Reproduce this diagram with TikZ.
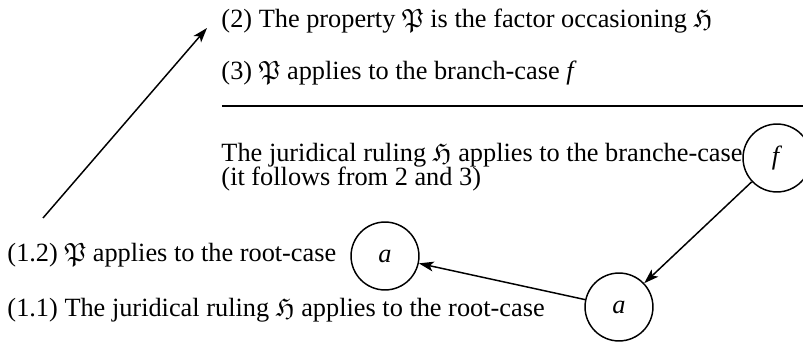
\documentclass[tikz,border=0pt]{standalone}
\usepackage{amssymb}
\usepackage{fontspec}
\setmainfont{Liberation Serif}
\usetikzlibrary{arrows.meta}

\tikzset{
  txt/.style={anchor=base west,inner sep=0pt},
  casenode/.style={draw,circle,line width=0.6pt,minimum size=27.6pt,inner sep=0pt},
  arr/.style={line width=0.6pt,-{Stealth[length=6pt,width=4pt,inset=1.5pt]}}
}

\begin{document}
\begin{tikzpicture}[x=0.4065pt,y=-0.4065pt,font=\fontsize{10.7pt}{12.8pt}\selectfont]
\useasboundingbox (0,0) rectangle (803,342);
\node[txt] (p2) at (221,28) {(2) The property $\mathfrak{P}$ is the factor occasioning $\mathfrak{H}$};
\node[txt] (p3) at (221,80) {(3) $\mathfrak{P}$ applies to the branch-case \textit{f}};
\draw[line width=0.8pt] (222,106) -- (803,106);
\node[txt,align=left] (ruling) at (221,186) {The juridical ruling $\mathfrak{H}$ applies to the branche-case\\[-3pt](it follows from 2 and 3)};
\node[casenode] (f) at (777,158) {\textit{f}};
\node[casenode] (aR) at (619,307) {\textit{a}};
\node[casenode] (aL) at (385,256) {\textit{a}};
\node[txt] (p12) at (7,262) {(1.2) $\mathfrak{P}$ applies to the root-case};
\node[txt] (p11) at (7,317) {(1.1) The juridical ruling $\mathfrak{H}$ applies to the root-case};
\coordinate (tail) at (43,218);
\coordinate (head) at (207,28);
\draw[arr] (f) -- (aR);
\draw[arr] (aR) -- (aL);
\draw[arr] (tail) -- (head);
\end{tikzpicture}
\end{document}
